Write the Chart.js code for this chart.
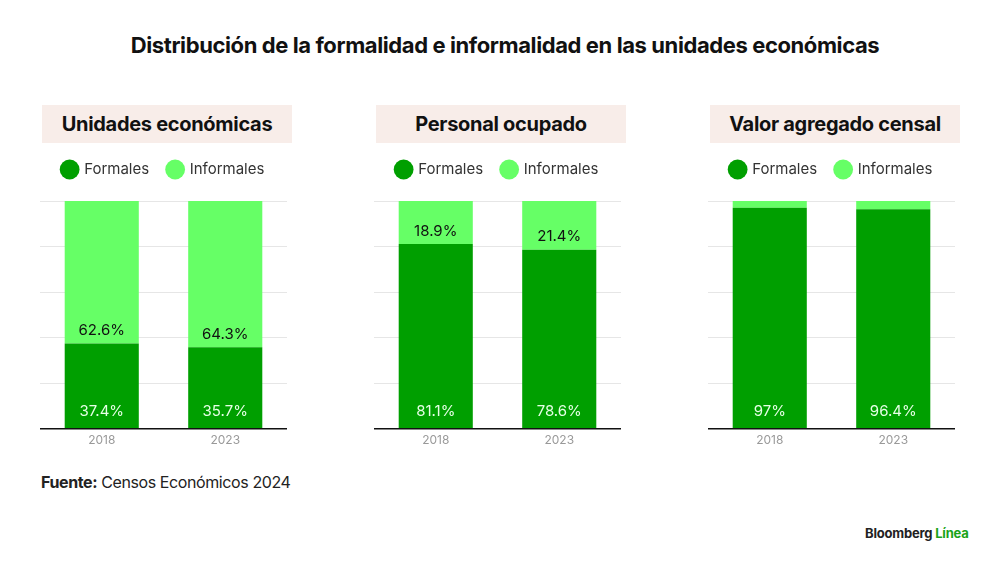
<!DOCTYPE html>
<html>
<head>
<meta charset="utf-8">
<script src="https://cdn.jsdelivr.net/npm/chart.js@4.4.0/dist/chart.umd.min.js"></script>
<style>
  body { margin: 0; width: 1000px; height: 565px; background: #fff; font-family: Inter, "Noto Sans", sans-serif; position: relative; overflow: hidden; }
  .title { position: absolute; top: 32px; left: 0; width: 1010px; text-align: center; font-size: 22px; font-weight: 700; color: #111; letter-spacing: -0.4px; }
  .head { position: absolute; top: 105px; width: 250px; height: 38px; line-height: 38px; background: #f8ede9; text-align: center; font-size: 20px; font-weight: 700; color: #111; letter-spacing: -0.3px; }
  .panel { position: absolute; top: 143px; width: 247px; height: 310px; }
  .source { position: absolute; left: 41px; top: 472px; font-size: 16px; color: #222; letter-spacing: -0.4px; }
  .source b { font-weight: 700; }
  .brand { position: absolute; left: 865px; top: 525px; font-size: 13px; font-weight: 700; color: #222; letter-spacing: -0.2px; }
  .brand span { color: #19a319; }
</style>
</head>
<body>
<div class="title">Distribución de la formalidad e informalidad en las unidades económicas</div>

<div class="head" style="left:42px">Unidades económicas</div>
<div class="head" style="left:376px">Personal ocupado</div>
<div class="head" style="left:710px">Valor agregado censal</div>

<div class="panel" style="left:40px"><canvas id="c1"></canvas></div>
<div class="panel" style="left:374px"><canvas id="c2"></canvas></div>
<div class="panel" style="left:708px"><canvas id="c3"></canvas></div>

<div class="source"><b>Fuente:</b> Censos Económicos 2024</div>
<div class="brand">Bloomberg <span>Línea</span></div>

<script>
// Datos
const years = ['2018', '2023'];
const seriesNames = ['Formales', 'Informales'];

const unidadesFormales = [37.4, 35.7];
const unidadesInformales = [62.6, 64.3];

const personalFormales = [81.1, 78.6];
const personalInformales = [18.9, 21.4];

const valorFormales = [97, 96.4];
const valorInformales = [3, 3.6];

const darkGreen = '#009f00';
const lightGreen = '#66ff66';

// Etiquetas de valor sobre las barras
const valueLabels = {
    id: 'valueLabels',
    afterDatasetsDraw(chart) {
        const ctx = chart.ctx;
        ctx.save();
        ctx.font = '15px Inter, "Noto Sans", sans-serif';
        ctx.textAlign = 'center';
        ctx.textBaseline = 'middle';
        chart.data.datasets.forEach(function(ds, i) {
            const meta = chart.getDatasetMeta(i);
            meta.data.forEach(function(bar, j) {
                const v = ds.data[j];
                if (v < 5) return;
                const txt = String(v) + '%';
                if (i === 0) {
                    ctx.fillStyle = '#e6ffe6';
                    ctx.fillText(txt, bar.x, bar.base - 17);
                } else {
                    ctx.fillStyle = '#111';
                    ctx.fillText(txt, bar.x, bar.base - 13);
                }
            });
        });
        ctx.restore();
    }
};

// Espacio extra bajo la leyenda
const legendSpace = {
    id: 'legendSpace',
    beforeInit(chart) {
        const origFit = chart.legend.fit;
        chart.legend.fit = function() {
            origFit.bind(chart.legend)();
            this.height += 14;
        };
    }
};

function makeChart(id, formales, informales) {
    return new Chart(document.getElementById(id), {
        type: 'bar',
        data: {
            labels: years,
            datasets: [
                { label: seriesNames[0], data: formales, backgroundColor: darkGreen, categoryPercentage: 0.6, barPercentage: 1 },
                { label: seriesNames[1], data: informales, backgroundColor: lightGreen, categoryPercentage: 0.6, barPercentage: 1 }
            ]
        },
        options: {
            responsive: true,
            maintainAspectRatio: false,
            animation: false,
            layout: { padding: 0 },
            plugins: {
                legend: {
                    position: 'top',
                    labels: {
                        usePointStyle: true,
                        pointStyle: 'circle',
                        boxWidth: 14,
                        boxHeight: 14,
                        padding: 19,
                        color: '#333',
                        font: { family: 'Inter', size: 15 }
                    }
                },
                tooltip: { enabled: false }
            },
            scales: {
                x: {
                    stacked: true,
                    grid: { display: false, drawTicks: false },
                    border: { color: '#111', width: 1.5 },
                    ticks: { color: '#999', padding: 5, font: { family: 'Inter', size: 12 } }
                },
                y: {
                    stacked: true,
                    min: 0,
                    max: 100,
                    ticks: { display: false, stepSize: 20 },
                    grid: { color: '#e6e6e6', drawTicks: false },
                    border: { display: false }
                }
            }
        },
        plugins: [valueLabels, legendSpace]
    });
}

makeChart('c1', unidadesFormales, unidadesInformales);
makeChart('c2', personalFormales, personalInformales);
makeChart('c3', valorFormales, valorInformales);
</script>
</body>
</html>
